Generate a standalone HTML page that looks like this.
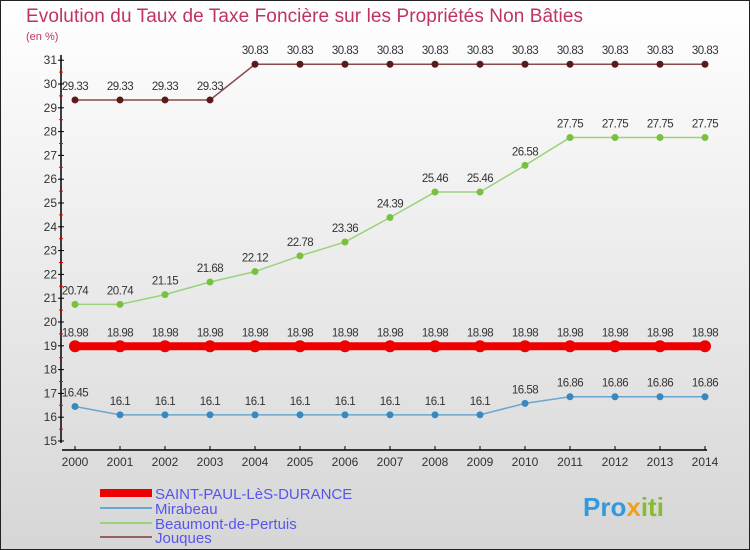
<!DOCTYPE html>
<html><head><meta charset="utf-8"><style>
body{margin:0;width:750px;height:550px;overflow:hidden;font-family:"Liberation Sans",sans-serif}
svg{display:block}
</style></head><body>
<svg id="c" width="750" height="550" xmlns="http://www.w3.org/2000/svg">
<defs><linearGradient id="bg" x1="0" y1="0" x2="0" y2="1"><stop offset="0" stop-color="#ffffff"/><stop offset="1" stop-color="#d6d6d6"/></linearGradient></defs>
<rect x="0.5" y="0.5" width="749" height="549" fill="url(#bg)" stroke="#222"/>
<text x="26" y="22" font-size="19" fill="#c0335f" textLength="557">Evolution du Taux de Taxe Foncière sur les Propriétés Non Bâties</text>
<text x="26" y="40" font-size="11" fill="#c0335f">(en %)</text>
<g id="axes"></g><g id="series"></g>
<g>
<rect x="100" y="489" width="52" height="8" fill="#ee0000"/>
<text x="155" y="499" font-size="15" fill="#5555ee">SAINT-PAUL-LèS-DURANCE</text>
<rect x="100" y="507" width="52" height="2" fill="#6aa6d0"/>
<text x="155" y="514" font-size="15" fill="#5555ee">Mirabeau</text>
<rect x="100" y="522" width="52" height="2" fill="#9ad27a"/>
<text x="155" y="529" font-size="15" fill="#5555ee">Beaumont-de-Pertuis</text>
<rect x="100" y="536" width="52" height="2" fill="#946060"/>
<text x="155" y="543" font-size="15" fill="#5555ee">Jouques</text>
</g>
<text x="583" y="516" font-size="26" font-weight="bold" fill="#3399dd">Pro<tspan fill="#f0a020">x</tspan><tspan fill="#88bb33">iti</tspan></text>
</svg>
<script>
const years=[2000,2001,2002,2003,2004,2005,2006,2007,2008,2009,2010,2011,2012,2013,2014];
const saintPaul=[18.98,18.98,18.98,18.98,18.98,18.98,18.98,18.98,18.98,18.98,18.98,18.98,18.98,18.98,18.98];
const mirabeau=[16.45,16.1,16.1,16.1,16.1,16.1,16.1,16.1,16.1,16.1,16.58,16.86,16.86,16.86,16.86];
const beaumont=[20.74,20.74,21.15,21.68,22.12,22.78,23.36,24.39,25.46,25.46,26.58,27.75,27.75,27.75,27.75];
const jouques=[29.33,29.33,29.33,29.33,30.83,30.83,30.83,30.83,30.83,30.83,30.83,30.83,30.83,30.83,30.83];
const yTicks=[15,16,17,18,19,20,21,22,23,24,25,26,27,28,29,30,31];
const NS="http://www.w3.org/2000/svg";
const xS=i=>75+i*45;
const yS=v=>441-(v-15)*23.8;
function mk(t,a,p){const e=document.createElementNS(NS,t);for(const k in a)e.setAttribute(k,a[k]);p.appendChild(e);return e;}
const ax=document.getElementById('axes');
let l=mk('line',{x1:61,y1:55,x2:61,y2:443,stroke:'#000','stroke-width':1.5},ax);


l=mk('line',{x1:62,y1:450,x2:707,y2:450,stroke:'#000','stroke-width':1.5},ax);


yTicks.forEach(v=>{const y=yS(v);
 mk('line',{x1:58,y1:y,x2:64,y2:y,stroke:'#000'},ax);
 if(v<31) mk('line',{x1:59,y1:y-11.9,x2:63,y2:y-11.9,stroke:'#e00'},ax);
 const t=mk('text',{x:57,y:y+4,'font-size':12,fill:'#333','text-anchor':'end'},ax);t.textContent=v;
 
 });
years.forEach((yr,i)=>{const x=xS(i);
 mk('line',{x1:x,y1:446,x2:x,y2:450,stroke:'#000'},ax);
 const t=mk('text',{x:x,y:466,'font-size':12,fill:'#333','text-anchor':'middle'},ax);t.textContent=yr;
 
 });
const sg=document.getElementById('series');
function series(vals,color,dot,w,r,name){
 const g=mk('g',{},sg);
 
 
 mk('polyline',{points:vals.map((v,i)=>xS(i)+','+yS(v)).join(' '),fill:'none',stroke:color,'stroke-width':w},g);
 vals.forEach((v,i)=>{const c=mk('circle',{cx:xS(i),cy:yS(v),r:r,fill:dot},g);
  
  
  const t=mk('text',{x:xS(i),y:yS(v)-10,'font-size':11.5,fill:'#333','text-anchor':'middle','letter-spacing':'-0.5'},g);t.textContent=v;
  
  });
}
series(jouques,'#8a4a4a','#5a1a1a',1.5,3.5,'series-jouques');
series(beaumont,'#9ad27a','#77c040',1.5,3.5,'series-beaumont');
series(saintPaul,'#ee0000','#ee0000',8,6,'series-saint-paul');
series(mirabeau,'#6aa6d0','#3a88c0',1.5,3.5,'series-mirabeau');
</script>
</body></html>
